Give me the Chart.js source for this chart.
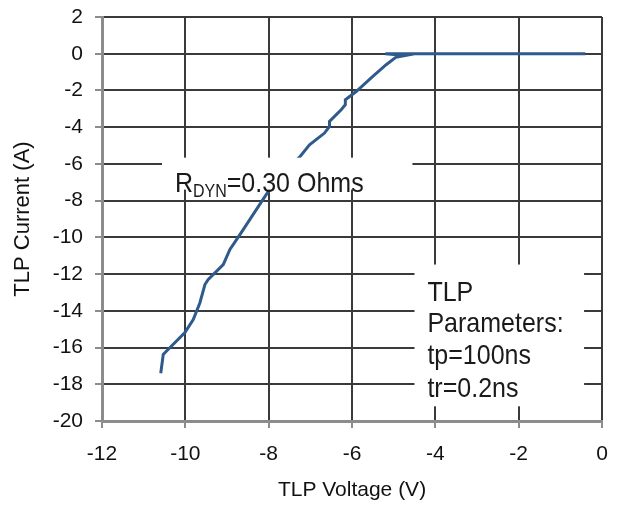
<!DOCTYPE html>
<html>
<head>
<meta charset="utf-8">
<script src="https://cdn.jsdelivr.net/npm/chart.js@4"></script>
<style>
  body { margin: 0; background: #fff; }
  canvas { display: block; }
</style>
</head>
<body>
<canvas id="tlp" width="617" height="505"></canvas>
<script>
// TLP curve (V, A)
const voltage = [-0.4, -1.5, -3.0, -4.2, -5.2, -4.72, -4.95, -5.18, -5.50, -5.90, -6.16, -6.16, -6.26, -6.54, -6.54, -6.66, -7.02, -7.26, -7.70, -8.06, -8.69, -8.93, -9.09, -9.45, -9.53, -9.65, -9.81, -10.01, -10.45, -10.53, -10.59];
const current = [0, 0, 0, 0, 0, -0.1, -0.2, -0.6, -1.24, -2.06, -2.51, -2.78, -3.05, -3.69, -3.96, -4.32, -4.96, -5.63, -6.6, -7.67, -9.85, -10.66, -11.48, -12.29, -12.57, -13.56, -14.47, -15.19, -16.19, -16.37, -17.4];

const xTicks = [-12, -10, -8, -6, -4, -2, 0];
const yTicks = [2, 0, -2, -4, -6, -8, -10, -12, -14, -16, -18, -20];

const paramLines = ['TLP', 'Parameters:', 'tp=100ns', 'tr=0.2ns'];

const FONT = '"Liberation Sans", Arial, sans-serif';

// texte légèrement étiré en hauteur comme sur l'original, renvoie la largeur
function stretchedText(ctx, txt, x, y, size) {
  ctx.save();
  ctx.font = size + 'px ' + FONT;
  const w = ctx.measureText(txt).width;
  ctx.translate(x, y);
  ctx.scale(1, 1.12);
  ctx.fillText(txt, 0, 0);
  ctx.restore();
  return w;
}

// boîtes blanches d'annotation par-dessus la grille et la courbe
const annotations = {
  id: 'annotations',
  afterDatasetsDraw(chart) {
    const ctx = chart.ctx;
    const xs = chart.scales.x, ys = chart.scales.y;
    const px = v => xs.getPixelForValue(v);
    const py = v => ys.getPixelForValue(v);

    ctx.save();
    ctx.fillStyle = '#fff';
    ctx.fillRect(px(-10.56), py(-5.66), px(-4.55) - px(-10.56), py(-7.40) - py(-5.66));
    ctx.fillRect(px(-4.50), py(-11.48), px(-0.43) - px(-4.50), py(-19.2) - py(-11.48));

    ctx.fillStyle = '#1a1a1a';
    ctx.textBaseline = 'alphabetic';
    ctx.textAlign = 'left';
    let x = px(-10.25);
    const base = py(-7.51);
    x += stretchedText(ctx, 'R', x, base, 25);
    x += stretchedText(ctx, 'DYN', x, base + 5, 16);
    stretchedText(ctx, '=0.30 Ohms', x, base, 25);

    const lineY = [-13.49, -15.17, -16.91, -18.71];
    paramLines.forEach((t, i) => stretchedText(ctx, t, px(-4.19), py(lineY[i]), 25));
    ctx.restore();
  }
};

const points = voltage.map((v, i) => ({ x: v, y: current[i] }));

new Chart(document.getElementById('tlp'), {
  type: 'scatter',
  data: {
    datasets: [{
      data: points,
      showLine: true,
      borderColor: '#2f5a8c',
      borderWidth: 3,
      pointRadius: 0,
      tension: 0
    }]
  },
  options: {
    responsive: false,
    animation: false,
    layout: { padding: { top: 17, right: 15, left: 0, bottom: 0 } },
    plugins: { legend: { display: false }, tooltip: { enabled: false } },
    scales: {
      x: {
        type: 'linear',
        min: -12,
        max: 0,
        afterBuildTicks: s => { s.ticks = xTicks.map(v => ({ value: v })); },
        afterFit: s => { s.height = 84; s.paddingLeft = 0; s.paddingRight = 0; },
        ticks: { font: { family: FONT, size: 21 }, color: '#111', padding: 14 },
        grid: { color: '#3a3a3a', lineWidth: 2, tickLength: 7, tickColor: '#8c8c8c' },
        border: { color: '#8c8c8c', width: 3 },
        title: { display: true, text: 'TLP Voltage (V)', font: { family: FONT, size: 21 }, color: '#111', padding: { top: 0, bottom: 2 } }
      },
      y: {
        type: 'linear',
        min: -20,
        max: 2,
        afterBuildTicks: s => { s.ticks = yTicks.map(v => ({ value: v })); },
        afterFit: s => { s.width = 102; s.paddingTop = 0; s.paddingBottom = 0; },
        ticks: { font: { family: FONT, size: 21 }, color: '#111', padding: 12 },
        grid: { color: '#3a3a3a', lineWidth: 2, tickLength: 7, tickColor: '#8c8c8c' },
        border: { color: '#8c8c8c', width: 3 },
        title: { display: true, text: 'TLP Current (A)', font: { family: FONT, size: 22 }, color: '#111', padding: { top: 10, bottom: 0 } }
      }
    }
  },
  plugins: [annotations]
});
</script>
</body>
</html>
